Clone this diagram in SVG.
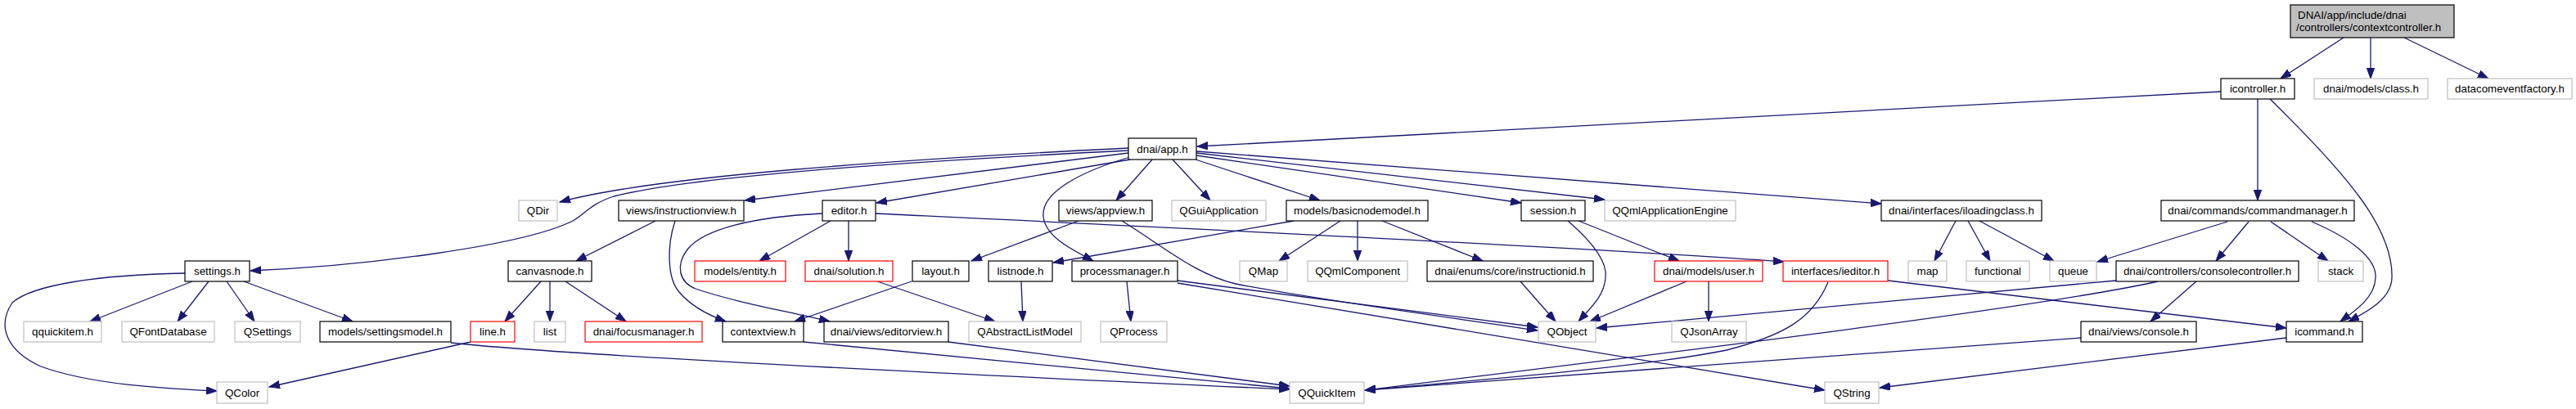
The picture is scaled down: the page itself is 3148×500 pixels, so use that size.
<svg xmlns="http://www.w3.org/2000/svg" width="3148" height="500" viewBox="0 0 3148 500">
<style>
rect{fill:#fff;stroke-width:1.2}
.d{stroke:#000}
.u{stroke:#bfbfbf}
.r{stroke:#ff0000}
.root{fill:#bfbfbf;stroke:#000}
text{font-family:"Liberation Sans",Arial,sans-serif;font-size:13.33px;fill:#000;text-anchor:middle}
.l{text-anchor:start}
#edges path{fill:none;stroke:#191970;stroke-width:1.3;marker-end:url(#ah)}
</style>
<defs>
<marker id="ah" markerUnits="userSpaceOnUse" markerWidth="14" markerHeight="10" refX="13" refY="4.7" orient="auto">
<path d="M0,0 L13,4.7 L0,9.4 z" fill="#191970" stroke="#191970" stroke-width="1"/>
</marker>
</defs>
<rect x="0" y="0" width="3148" height="500" style="fill:#fff;stroke:none"/>
<g id="edges">
<path d="M2864,46 L2787,96"/>
<path d="M2897,46 L2897,96"/>
<path d="M2938,46 L3041,96"/>
<path d="M2714,112 L1463,179"/>
<path d="M2759,121 L2759,245"/>
<path d="M2774,121 C2870,215 2925,280 2923,340 C2922,365 2895,380 2870,393"/>
<path d="M2825,271 C2870,290 2905,315 2903,340 C2902,365 2875,382 2860,393"/>
<path d="M2722,271 L2563,320"/>
<path d="M2748,271 L2708,319"/>
<path d="M2775,271 L2845,319"/>
<path d="M2684,344 L2628,393"/>
<path d="M2586,343 L1951,401"/>
<path d="M2637,344 C2500,375 2050,430 1668,477"/>
<path d="M2543,413 L1668,477"/>
<path d="M2794,413 L2297,474"/>
<path d="M2307,343 L2794,401"/>
<path d="M2234,345 C2215,390 2180,410 2110,428 C2000,450 1800,465 1668,477"/>
<path d="M2061,344 L1943,393"/>
<path d="M2088,344 L2088,393"/>
<path d="M1858,344 L1901,393"/>
<path d="M1916,270 C1945,295 1965,320 1962,340 C1960,362 1945,375 1929,393"/>
<path d="M1929,270 L2052,319"/>
<path d="M2390,270 L2364,319"/>
<path d="M2405,270 L2432,319"/>
<path d="M2419,270 L2510,319"/>
<path d="M1659,270 L1659,319"/>
<path d="M1689,270 L1812,319"/>
<path d="M1581,270 L1287,321"/>
<path d="M1638,270 L1563,319"/>
<path d="M1070,261 C1300,272 1900,300 2180,320"/>
<path d="M1318,270 L1187,319"/>
<path d="M1371,270 C1420,300 1460,335 1510,347 C1600,365 1750,385 1879,404"/>
<path d="M1439,343 L1879,400"/>
<path d="M1439,346 L2230,477"/>
<path d="M1377,344 L1382,393"/>
<path d="M1248,344 L1250,393"/>
<path d="M1072,344 L1216,393"/>
<path d="M1114,344 L971,393"/>
<path d="M825,270 C815,300 815,340 830,357 C845,375 865,385 887,393"/>
<path d="M1005,261 C920,265 860,280 840,305 C825,325 830,345 850,353 C900,370 960,380 1014,393"/>
<path d="M1015,270 L928,319"/>
<path d="M1037,270 L1037,319"/>
<path d="M1379,181 C1100,195 800,215 684,247"/>
<path d="M1379,184 C1100,198 850,215 750,240 C720,250 715,262 700,270 C640,300 450,325 306,331"/>
<path d="M1379,187 L910,245"/>
<path d="M1381,195 L1071,248"/>
<path d="M1408,195 L1364,245"/>
<path d="M1433,195 L1479,245"/>
<path d="M1461,195 L1613,245"/>
<path d="M1381,192 C1320,210 1272,235 1275,265 C1278,290 1310,305 1336,319"/>
<path d="M1462,190 L1859,248"/>
<path d="M1462,187 L1961,244"/>
<path d="M1462,185 L2299,249"/>
<path d="M801,270 L704,319"/>
<path d="M235,344 L110,393"/>
<path d="M255,344 L217,393"/>
<path d="M277,344 L311,393"/>
<path d="M298,344 L431,393"/>
<path d="M226,334 C120,336 40,348 15,370 C-5,400 10,430 50,448 C110,470 200,475 265,478"/>
<path d="M551,419 C650,430 1000,450 1576,476"/>
<path d="M575,418 L329,473"/>
<path d="M661,344 L617,393"/>
<path d="M672,344 L672,393"/>
<path d="M691,344 L765,393"/>
<path d="M982,418 L1576,475"/>
<path d="M1159,418 L1576,472"/>
</g>
<g id="n_root"><rect class="root" x="2799" y="6" width="200" height="40"/><text class="l" x="2808" y="22.5">DNAI/app/include/dnai</text><text class="l" x="2806" y="37.5">/controllers/contextcontroller.h</text></g>
<g id="n_icontroller"><rect class="d" x="2714" y="96" width="90" height="25"/><text x="2759" y="113">icontroller.h</text></g>
<g id="n_class"><rect class="u" x="2828" y="96" width="139" height="25"/><text x="2897.5" y="113">dnai/models/class.h</text></g>
<g id="n_datacom"><rect class="u" x="2991" y="96" width="152" height="25"/><text x="3067" y="113">datacomeventfactory.h</text></g>
<g id="n_app"><rect class="d" x="1379" y="169" width="83" height="26"/><text x="1420.5" y="186.5">dnai/app.h</text></g>
<g id="n_qdir"><rect class="u" x="634" y="245" width="47" height="25"/><text x="657.5" y="262">QDir</text></g>
<g id="n_instructionview"><rect class="d" x="756" y="245" width="153" height="25"/><text x="832.5" y="262">views/instructionview.h</text></g>
<g id="n_editor"><rect class="d" x="1005" y="245" width="65" height="25"/><text x="1037.5" y="262">editor.h</text></g>
<g id="n_appview"><rect class="d" x="1294" y="245" width="114" height="25"/><text x="1351" y="262">views/appview.h</text></g>
<g id="n_qguiapp"><rect class="u" x="1432" y="245" width="115" height="25"/><text x="1489.5" y="262">QGuiApplication</text></g>
<g id="n_basicnodemodel"><rect class="d" x="1572" y="245" width="173" height="25"/><text x="1658.5" y="262">models/basicnodemodel.h</text></g>
<g id="n_session"><rect class="d" x="1859" y="245" width="78" height="25"/><text x="1898" y="262">session.h</text></g>
<g id="n_qqmlengine"><rect class="u" x="1961" y="245" width="160" height="25"/><text x="2041" y="262">QQmlApplicationEngine</text></g>
<g id="n_iloadingclass"><rect class="d" x="2299" y="245" width="196" height="25"/><text x="2397" y="262">dnai/interfaces/iloadingclass.h</text></g>
<g id="n_commandmanager"><rect class="d" x="2641" y="245" width="236" height="25"/><text x="2759" y="262">dnai/commands/commandmanager.h</text></g>
<g id="n_settings"><rect class="d" x="226" y="319" width="79" height="25"/><text x="265.5" y="336">settings.h</text></g>
<g id="n_canvasnode"><rect class="d" x="621" y="319" width="102" height="25"/><text x="672" y="336">canvasnode.h</text></g>
<g id="n_entity"><rect class="r" x="849" y="319" width="111" height="25"/><text x="904.5" y="336">models/entity.h</text></g>
<g id="n_solution"><rect class="r" x="984" y="319" width="107" height="25"/><text x="1037.5" y="336">dnai/solution.h</text></g>
<g id="n_layout"><rect class="d" x="1115" y="319" width="69" height="25"/><text x="1149.5" y="336">layout.h</text></g>
<g id="n_listnode"><rect class="d" x="1208" y="319" width="78" height="25"/><text x="1247" y="336">listnode.h</text></g>
<g id="n_processmanager"><rect class="d" x="1310" y="319" width="129" height="25"/><text x="1374.5" y="336">processmanager.h</text></g>
<g id="n_qmap"><rect class="u" x="1515" y="319" width="58" height="25"/><text x="1544" y="336">QMap</text></g>
<g id="n_qqmlcomponent"><rect class="u" x="1598" y="319" width="122" height="25"/><text x="1659" y="336">QQmlComponent</text></g>
<g id="n_instructionid"><rect class="d" x="1744" y="319" width="203" height="25"/><text x="1845.5" y="336">dnai/enums/core/instructionid.h</text></g>
<g id="n_user"><rect class="r" x="2022" y="319" width="132" height="25"/><text x="2088" y="336">dnai/models/user.h</text></g>
<g id="n_ieditor"><rect class="r" x="2179" y="319" width="128" height="25"/><text x="2243" y="336">interfaces/ieditor.h</text></g>
<g id="n_map"><rect class="u" x="2332" y="319" width="47" height="25"/><text x="2355.5" y="336">map</text></g>
<g id="n_functional"><rect class="u" x="2403" y="319" width="77" height="25"/><text x="2441.5" y="336">functional</text></g>
<g id="n_queue"><rect class="u" x="2505" y="319" width="57" height="25"/><text x="2533.5" y="336">queue</text></g>
<g id="n_consolecontroller"><rect class="d" x="2586" y="319" width="223" height="25"/><text x="2697.5" y="336">dnai/controllers/consolecontroller.h</text></g>
<g id="n_stack"><rect class="u" x="2833" y="319" width="55" height="25"/><text x="2860.5" y="336">stack</text></g>
<g id="n_qquickitem_h"><rect class="u" x="29" y="393" width="95" height="25"/><text x="76.5" y="410">qquickitem.h</text></g>
<g id="n_qfontdatabase"><rect class="u" x="149" y="393" width="113" height="25"/><text x="205.5" y="410">QFontDatabase</text></g>
<g id="n_qsettings"><rect class="u" x="287" y="393" width="80" height="25"/><text x="327" y="410">QSettings</text></g>
<g id="n_settingsmodel"><rect class="d" x="391" y="393" width="160" height="25"/><text x="471" y="410">models/settingsmodel.h</text></g>
<g id="n_line"><rect class="r" x="575" y="393" width="54" height="25"/><text x="602" y="410">line.h</text></g>
<g id="n_list"><rect class="u" x="653" y="393" width="38" height="25"/><text x="672" y="410">list</text></g>
<g id="n_focusmanager"><rect class="r" x="715" y="393" width="143" height="25"/><text x="786.5" y="410">dnai/focusmanager.h</text></g>
<g id="n_contextview"><rect class="d" x="883" y="393" width="99" height="25"/><text x="932.5" y="410">contextview.h</text></g>
<g id="n_editorview"><rect class="d" x="1007" y="393" width="152" height="25"/><text x="1083" y="410">dnai/views/editorview.h</text></g>
<g id="n_qabstractlistmodel"><rect class="u" x="1184" y="393" width="137" height="25"/><text x="1252.5" y="410">QAbstractListModel</text></g>
<g id="n_qprocess"><rect class="u" x="1345" y="393" width="81" height="25"/><text x="1385.5" y="410">QProcess</text></g>
<g id="n_qobject"><rect class="u" x="1880" y="393" width="70" height="25"/><text x="1915" y="410">QObject</text></g>
<g id="n_qjsonarray"><rect class="u" x="2043" y="393" width="91" height="25"/><text x="2088.5" y="410">QJsonArray</text></g>
<g id="n_console"><rect class="d" x="2543" y="393" width="141" height="25"/><text x="2613.5" y="410">dnai/views/console.h</text></g>
<g id="n_icommand"><rect class="d" x="2794" y="393" width="93" height="25"/><text x="2840.5" y="410">icommand.h</text></g>
<g id="n_qcolor"><rect class="u" x="265" y="467" width="62" height="26"/><text x="296" y="484.5">QColor</text></g>
<g id="n_qquickitem"><rect class="u" x="1576" y="467" width="91" height="26"/><text x="1621.5" y="484.5">QQuickItem</text></g>
<g id="n_qstring"><rect class="u" x="2230" y="467" width="66" height="26"/><text x="2263" y="484.5">QString</text></g>
</svg>
